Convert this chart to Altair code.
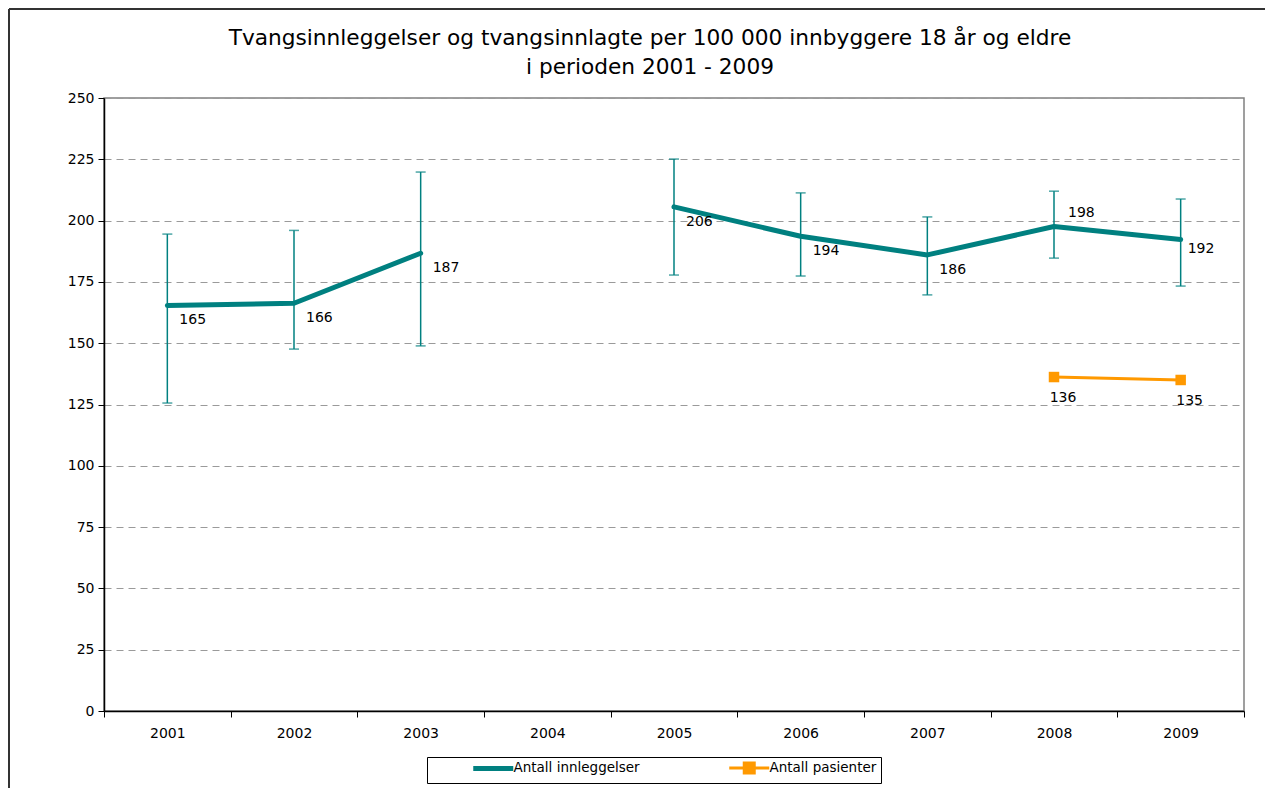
import altair as alt
import pandas as pd

years = ["2001", "2002", "2003", "2004", "2005", "2006", "2007", "2008", "2009"]
inn_years = ["2001", "2002", "2003", "2005", "2006", "2007", "2008", "2009"]
inn_values = [165.4, 166.3, 186.7, 205.6, 193.6, 186.0, 197.6, 192.3]
inn_low = [125.6, 147.6, 148.9, 177.8, 177.4, 169.7, 184.7, 173.3]
inn_high = [194.5, 196.0, 219.8, 225.1, 211.3, 201.5, 212.0, 208.8]
pas_years = ["2008", "2009"]
pas_values = [136.2, 135.0]
series = ["Antall innleggelser", "Antall pasienter"]
colors = ["#008080", "#FF9900"]
y_ticks = [0, 25, 50, 75, 100, 125, 150, 175, 200, 225, 250]
title_lines = ["Tvangsinnleggelser og tvangsinnlagte per 100 000 innbyggere 18 år og eldre",
               "i perioden 2001 - 2009"]

FONT = "DejaVu Sans"

inn = pd.DataFrame({"year": inn_years, "value": inn_values, "low": inn_low,
                    "high": inn_high, "serie": series[0]})
inn["segment"] = ["a" if int(y) < 2004 else "b" for y in inn_years]
pas = pd.DataFrame({"year": pas_years, "value": pas_values, "serie": series[1]})

xs = alt.Scale(type="band", domain=years, paddingInner=0, paddingOuter=0)
ys = alt.Scale(domain=[0, 250], nice=False, zero=True)

X = alt.X("year:N", scale=xs, title=None,
          axis=alt.Axis(labelAngle=0, tickBand="extent", grid=False, labelPadding=9))
Y = alt.Y("value:Q", scale=ys, title=None,
          axis=alt.Axis(values=y_ticks, grid=True, gridDash=[7, 5], gridColor="#9a9a9a",
                        gridWidth=1, labelPadding=4))

color = alt.Color(
    "serie:N",
    scale=alt.Scale(domain=series, range=colors),
    legend=alt.Legend(
        title=None, orient="none", legendX=323, legendY=659, direction="horizontal",
        strokeColor="#000000", fillColor="#ffffff", padding=4, columnPadding=47,
        symbolSize=1600, labelFontSize=13.5, labelFont=FONT, labelColor="#000000",
        symbolOffset=55.5, labelOffset=13.5,
        labelExpr="datum.label == 'Antall pasienter' ? datum.label + '\u00a0\u00a0\u00a0\u00a0\u00a0\u00a0' : datum.label",
        symbolType={"expr": "datum.value === 'Antall pasienter' ? 'M-1,0H1M-0.25,-0.25H0.25V0.25H-0.25Z' : 'M-1,0H1'"},
        symbolStrokeWidth={"expr": "datum.value === 'Antall pasienter' ? 3 : 5"},
        symbolFillColor={"expr": "datum.value === 'Antall pasienter' ? '#FF9900' : 'transparent'"},
    ),
)

base_inn = alt.Chart(inn)
base_pas = alt.Chart(pas)

err_rule = base_inn.mark_rule(color="#008080", strokeWidth=1.5).encode(
    x=X, y=alt.Y("low:Q", scale=ys, title=None), y2="high:Q")
cap_low = base_inn.mark_tick(color="#008080", thickness=1.5, size=10).encode(
    x=X, y=alt.Y("low:Q", scale=ys, title=None))
cap_high = base_inn.mark_tick(color="#008080", thickness=1.5, size=10).encode(
    x=X, y=alt.Y("high:Q", scale=ys, title=None))

line_inn = base_inn.mark_line(strokeWidth=5, strokeCap="round", strokeJoin="round").encode(
    x=X, y=Y, color=color, detail="segment:N")

line_pas = base_pas.mark_line(strokeWidth=3).encode(
    x=X, y=alt.Y("value:Q", scale=ys, title=None), color=color)
pts_pas = base_pas.mark_point(shape="square", filled=True, size=110, color="#FF9900", opacity=1).encode(
    x=X, y=alt.Y("value:Q", scale=ys, title=None))

txt = dict(fontSize=14, font=FONT, color="#000000", baseline="middle")
lab_main = base_inn.mark_text(align="left", dx=12, dy=15, **txt).encode(
    x=X, y=alt.Y("value:Q", scale=ys, title=None), text=alt.Text("value:Q", format=".0f")
).transform_filter("datum.year != '2008' && datum.year != '2009'")
lab_2008 = base_inn.mark_text(align="left", dx=14, dy=-13, **txt).encode(
    x=X, y=alt.Y("value:Q", scale=ys, title=None), text=alt.Text("value:Q", format=".0f")
).transform_filter("datum.year == '2008'")
lab_2009 = base_inn.mark_text(align="left", dx=7, dy=10, **txt).encode(
    x=X, y=alt.Y("value:Q", scale=ys, title=None), text=alt.Text("value:Q", format=".0f")
).transform_filter("datum.year == '2009'")
lab_pas = base_pas.mark_text(align="center", dx=9, dy=21, **txt).encode(
    x=X, y=alt.Y("value:Q", scale=ys, title=None), text=alt.Text("value:Q", format=".0f"))

frame = alt.Chart(alt.Data(values=[{"a": 1}]))
frame_left = frame.mark_rule(color="#333333", strokeWidth=2).encode(
    x=alt.value(-95), y=alt.value(-89), y2=alt.value(700))
frame_top = frame.mark_rule(color="#333333", strokeWidth=2).encode(
    x=alt.value(-95), x2=alt.value(1161), y=alt.value(-89))

chart = alt.layer(
    err_rule, cap_low, cap_high, line_inn, line_pas, pts_pas,
    lab_main, lab_2008, lab_2009, lab_pas, frame_left, frame_top
).properties(
    width=1140, height=613,
    autosize=alt.AutoSizeParams(type="none"),
    padding={"left": 96, "top": 90, "right": 21, "bottom": 77},
    title=alt.TitleParams(title_lines, font=FONT, fontSize=21.7, fontWeight="normal",
                          color="#000000", lineHeight=29, offset=-71, dx=-24,
                          anchor="middle", frame="group"),
).configure_view(
    stroke="#808080", strokeWidth=1.5
).configure_axis(
    labelFont=FONT, labelFontSize=14, labelColor="#000000",
    domainColor="#000000", domainWidth=1.5, tickColor="#000000", tickSize=6, tickWidth=1
)

chart.save("out.html", embed_options={"renderer": "svg", "actions": False})
